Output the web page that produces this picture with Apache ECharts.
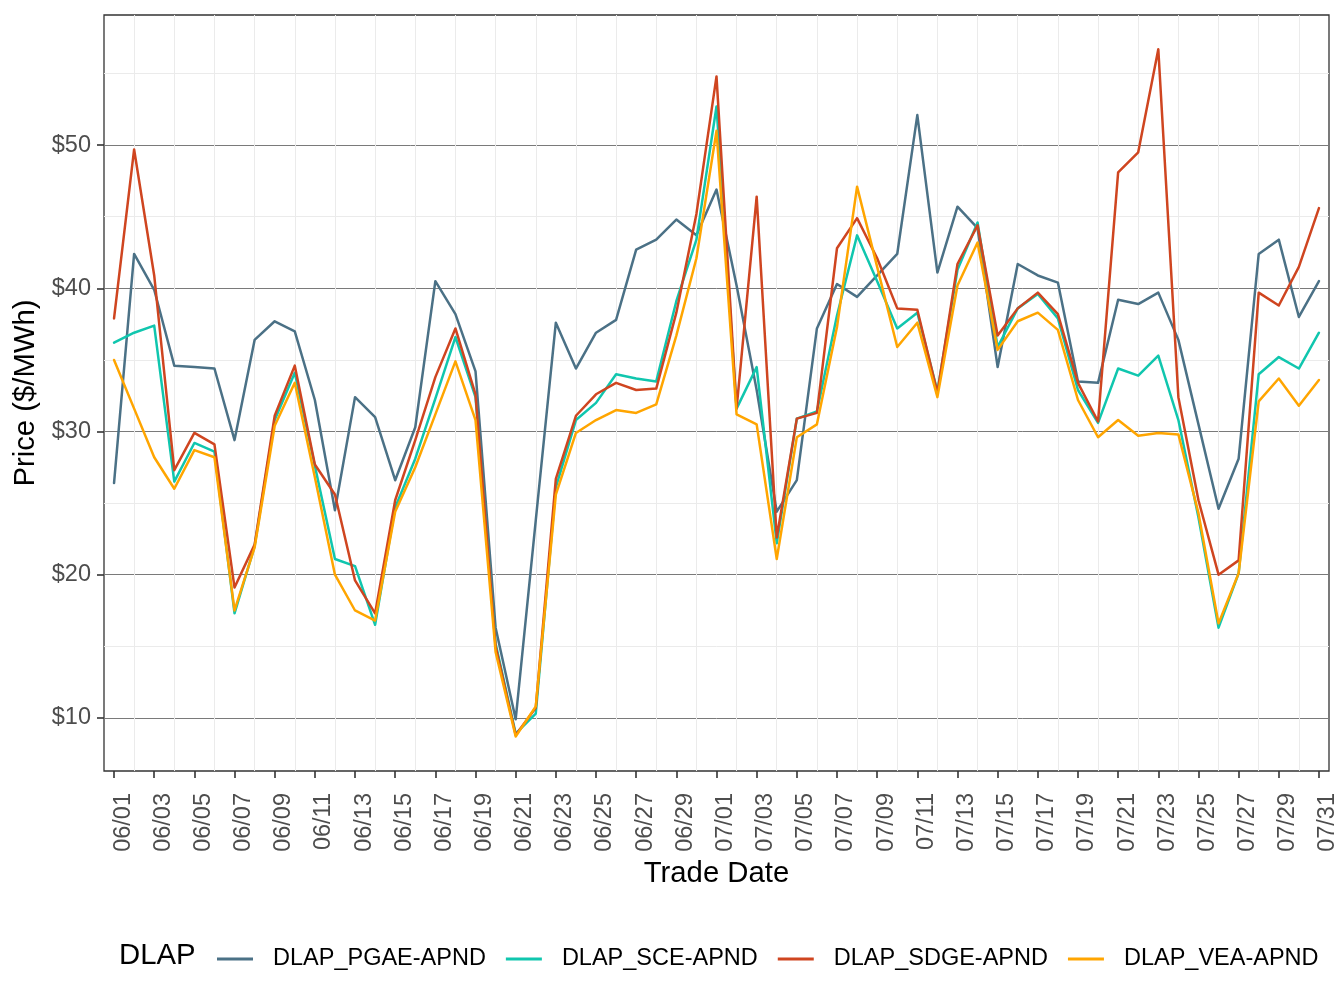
<!DOCTYPE html>
<html>
<head>
<meta charset="utf-8">
<script src="https://cdn.jsdelivr.net/npm/echarts@6/dist/echarts.min.js"></script>
<style>html,body{margin:0;padding:0;background:#fff}#c{width:1344px;height:1008px}</style>
</head>
<body>
<div id="c"></div>
<script>
const dates = ['06/01','06/02','06/03','06/04','06/05','06/06','06/07','06/08','06/09','06/10',
  '06/11','06/12','06/13','06/14','06/15','06/16','06/17','06/18','06/19','06/20',
  '06/21','06/22','06/23','06/24','06/25','06/26','06/27','06/28','06/29','06/30',
  '07/01','07/02','07/03','07/04','07/05','07/06','07/07','07/08','07/09','07/10',
  '07/11','07/12','07/13','07/14','07/15','07/16','07/17','07/18','07/19','07/20',
  '07/21','07/22','07/23','07/24','07/25','07/26','07/27','07/28','07/29','07/30','07/31'];

const pgae = [26.4,42.4,39.9,34.6,34.5,34.4,29.4,36.4,37.7,37.0,
  32.2,24.5,32.4,31.0,26.6,30.3,40.5,38.2,34.2,16.3,
  9.9,23.8,37.6,34.4,36.9,37.8,42.7,43.4,44.8,43.7,
  46.9,40.2,32.9,24.4,26.6,37.2,40.3,39.4,40.9,42.4,
  52.1,41.1,45.7,44.2,34.5,41.7,40.9,40.4,33.5,33.4,
  39.2,38.9,39.7,36.4,30.5,24.6,28.1,42.4,43.4,38.0,40.5];

const sce = [36.2,36.9,37.4,26.5,29.2,28.6,17.3,22.0,30.8,34.1,
  27.6,21.1,20.6,16.5,24.7,28.1,32.3,36.6,32.4,15.2,
  8.9,10.3,26.1,30.8,32.0,34.0,33.7,33.5,39.1,43.4,
  52.7,31.6,34.5,22.2,30.9,31.4,38.1,43.7,40.5,37.2,
  38.3,32.8,41.3,44.6,35.9,38.6,39.6,37.9,32.9,30.6,
  34.4,33.9,35.3,30.8,24.0,16.3,20.1,34.0,35.2,34.4,36.9];

const sdge = [37.9,49.7,40.9,27.3,29.9,29.1,19.1,22.1,31.1,34.6,
  27.7,25.6,19.6,17.3,25.2,29.4,33.8,37.2,32.6,15.0,
  8.8,10.7,26.7,31.1,32.6,33.4,32.9,33.0,38.3,45.2,
  54.8,31.6,46.4,22.6,30.9,31.3,42.8,44.9,42.1,38.6,
  38.5,32.7,41.7,44.4,36.7,38.6,39.7,38.2,33.4,30.7,
  48.1,49.5,56.7,32.4,25.2,20.0,21.0,39.7,38.8,41.5,45.6];

const vea = [35.0,31.6,28.2,26.0,28.7,28.2,17.5,21.9,30.4,33.4,
  26.8,20.0,17.5,16.8,24.4,27.5,31.2,34.9,30.8,14.6,
  8.7,10.8,25.6,29.9,30.8,31.5,31.3,31.9,36.7,42.1,
  51.0,31.2,30.5,21.1,29.6,30.5,37.3,47.1,41.5,35.9,
  37.6,32.4,40.2,43.2,35.7,37.7,38.3,37.1,32.2,29.6,
  30.8,29.7,29.9,29.8,24.3,16.6,20.1,32.1,33.7,31.8,33.6];

const yMajor = [10, 20, 30, 40, 50];
const yMinor = [15, 25, 35, 45, 55];

const seriesNames = ['DLAP_PGAE-APND', 'DLAP_SCE-APND', 'DLAP_SDGE-APND', 'DLAP_VEA-APND'];
const seriesValues = [pgae, sce, sdge, vea];
const seriesColors = ['#4b7186', '#10c6ae', '#cf4520', '#ffa500'];

const FONT = 'Liberation Sans, Arial, Helvetica, sans-serif';
const Y_MIN = 6.29, Y_MAX = 59.09;

const chart = echarts.init(document.getElementById('c'), null, {renderer: 'canvas'});

chart.setOption({
  animation: false,
  backgroundColor: '#ffffff',
  grid: {
    left: 104, right: 15, top: 15, bottom: 237,
    show: true, borderColor: '#333333', borderWidth: 1.3, backgroundColor: 'transparent'
  },
  xAxis: {
    type: 'category',
    data: dates,
    boundaryGap: true,
    axisLine: {show: false},
    axisTick: {show: true, interval: 1, alignWithLabel: true, length: 7,
      lineStyle: {color: '#333333', width: 1.6}},
    axisLabel: {interval: 1, rotate: 90, fontSize: 23.5, color: '#4d4d4d', fontFamily: FONT,
      margin: 22, verticalAlign: 'top', lineHeight: 18},
    splitLine: {show: true, alignWithLabel: true, interval: function (i) { return i % 2 === 1; },
      lineStyle: {color: '#ebebeb', width: 1}},
    name: 'Trade Date', nameLocation: 'middle', nameGap: 88,
    nameTextStyle: {fontSize: 29.3, color: '#000000', fontFamily: FONT}
  },
  yAxis: [
    {
      type: 'value', min: Y_MIN, max: Y_MAX, position: 'left',
      axisLine: {show: false},
      axisTick: {show: true, customValues: yMajor, length: 7, lineStyle: {color: '#333333', width: 1.6}},
      axisLabel: {customValues: yMajor, formatter: function (v) { return '$' + v; },
        fontSize: 23.5, color: '#4d4d4d', fontFamily: FONT, margin: 13},
      splitLine: {show: true, lineStyle: {color: '#7a7a7a', width: 1}},
      name: 'Price ($/MWh)', nameLocation: 'middle', nameGap: 60,
      nameTextStyle: {fontSize: 29.3, color: '#000000', fontFamily: FONT}
    },
    {
      type: 'value', min: Y_MIN, max: Y_MAX, position: 'left',
      axisLine: {show: false},
      axisTick: {show: false, customValues: yMinor},
      axisLabel: {show: false, customValues: yMinor},
      splitLine: {show: true, lineStyle: {color: '#ebebeb', width: 1}}
    }
  ],
  legend: {
    left: 212, top: 942,
    icon: 'rect', itemWidth: 36, itemHeight: 3, itemGap: 20,
    textStyle: {fontSize: 23.5, color: '#000000', fontFamily: FONT, padding: [0, 0, 0, 15]},
    data: seriesNames
  },
  graphic: [
    {type: 'text', x: 119, y: 956,
      style: {text: 'DLAP', fontSize: 29.3, fontFamily: FONT, fill: '#000000', verticalAlign: 'middle'}}
  ],
  series: seriesNames.map(function (name, k) {
    return {
      name: name, type: 'line', data: seriesValues[k], yAxisIndex: 0,
      symbol: 'none', showSymbol: false, smooth: false,
      color: seriesColors[k],
      lineStyle: {width: 2.5, color: seriesColors[k], join: 'round', cap: 'round'},
      emphasis: {disabled: true}
    };
  })
});
</script>
</body>
</html>
